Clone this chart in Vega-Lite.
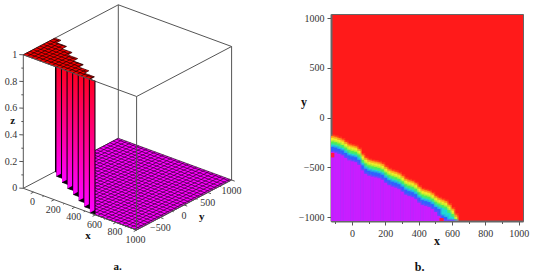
{"$schema":"https://vega.github.io/schema/vega-lite/v6.json","padding":0,"background":"white","spacing":27,"config":{"view":{"stroke":null},"axis":{"grid":false,"labelOverlap":false}},
"datasets":{"a":[
{"g":"b0","a":-100,"b":-1000,"z":1,"c":-100,"d":1000,"e":1},{"g":"b0","a":-100,"b":1000,"z":1,"c":1000,"d":1000,"e":1},{"g":"b0","a":-100,"b":1000,"z":1,"c":-100,"d":1000,"e":0},{"g":"b0","a":-100,"b":-1000,"z":0,"c":-100,"d":1000,"e":0},{"g":"b0","a":1000,"b":1000,"z":1,"c":1000,"d":1000,"e":0},{"g":"b0","a":1000,"b":1000,"z":1,"c":1000,"d":-1000,"e":1},{"g":"b0","a":1000,"b":-1000,"z":1,"c":-100,"d":-1000,"e":1},{"g":"b0","a":-100,"b":-1000,"z":1,"c":-100,"d":-1000,"e":0},
{"g":"b1","a":1000,"b":-1000,"z":1,"c":1000,"d":-1000,"e":0},{"g":"b1","a":-100,"b":-1000,"z":0,"c":1000,"d":-1000,"e":0},{"g":"b1","a":1000,"b":-1000,"z":0,"c":1000,"d":1000,"e":0},{"g":"b1","a":-100,"b":-1000,"z":1,"c":600,"d":-1000,"e":1},
{"g":"fp","i":1,"x":-100,"y":1000,"z":0},{"g":"fp","i":2,"x":1000,"y":1000,"z":0},{"g":"fp","i":3,"x":1000,"y":-1000,"z":0},{"g":"fp","i":4,"x":600,"y":-1000,"z":0},{"g":"fp","i":5,"x":600,"y":-998,"z":0},{"g":"fp","i":6,"x":546,"y":-998,"z":0},{"g":"fp","i":7,"x":546,"y":-903,"z":0},{"g":"fp","i":8,"x":448,"y":-903,"z":0},{"g":"fp","i":9,"x":448,"y":-808,"z":0},{"g":"fp","i":10,"x":350,"y":-808,"z":0},{"g":"fp","i":11,"x":350,"y":-713,"z":0},{"g":"fp","i":12,"x":252,"y":-713,"z":0},{"g":"fp","i":13,"x":252,"y":-618,"z":0},{"g":"fp","i":14,"x":154,"y":-618,"z":0},{"g":"fp","i":15,"x":154,"y":-523,"z":0},{"g":"fp","i":16,"x":56,"y":-523,"z":0},{"g":"fp","i":17,"x":56,"y":-428,"z":0},{"g":"fp","i":18,"x":-42,"y":-428,"z":0},{"g":"fp","i":19,"x":-42,"y":-333,"z":0},{"g":"fp","i":20,"x":-100,"y":-333,"z":0},
{"g":"pp","i":1,"x":-100,"y":-1000,"z":1},{"g":"pp","i":2,"x":-100,"y":-333,"z":1},{"g":"pp","i":3,"x":-42,"y":-333,"z":1},{"g":"pp","i":4,"x":-42,"y":-428,"z":1},{"g":"pp","i":5,"x":56,"y":-428,"z":1},{"g":"pp","i":6,"x":56,"y":-523,"z":1},{"g":"pp","i":7,"x":154,"y":-523,"z":1},{"g":"pp","i":8,"x":154,"y":-618,"z":1},{"g":"pp","i":9,"x":252,"y":-618,"z":1},{"g":"pp","i":10,"x":252,"y":-713,"z":1},{"g":"pp","i":11,"x":350,"y":-713,"z":1},{"g":"pp","i":12,"x":350,"y":-808,"z":1},{"g":"pp","i":13,"x":448,"y":-808,"z":1},{"g":"pp","i":14,"x":448,"y":-903,"z":1},{"g":"pp","i":15,"x":546,"y":-903,"z":1},{"g":"pp","i":16,"x":546,"y":-998,"z":1},{"g":"pp","i":17,"x":600,"y":-998,"z":1},{"g":"pp","i":18,"x":600,"y":-1000,"z":1},
{"g":"wb","w":"0","x":-100,"y":-333,"z":0},{"g":"wb","w":"0","x":-42,"y":-333,"z":0},{"g":"wb","w":"1","x":-42,"y":-428,"z":0},{"g":"wb","w":"1","x":56,"y":-428,"z":0},{"g":"wb","w":"2","x":56,"y":-523,"z":0},{"g":"wb","w":"2","x":154,"y":-523,"z":0},{"g":"wb","w":"3","x":154,"y":-618,"z":0},{"g":"wb","w":"3","x":252,"y":-618,"z":0},{"g":"wb","w":"4","x":252,"y":-713,"z":0},{"g":"wb","w":"4","x":350,"y":-713,"z":0},{"g":"wb","w":"5","x":350,"y":-808,"z":0},{"g":"wb","w":"5","x":448,"y":-808,"z":0},{"g":"wb","w":"6","x":448,"y":-903,"z":0},{"g":"wb","w":"6","x":546,"y":-903,"z":0},{"g":"wb","w":"7","x":546,"y":-998,"z":0},{"g":"wb","w":"7","x":600,"y":-998,"z":0},
{"g":"wp","w":"0","x":-42,"y":-333,"z":0},{"g":"wp","w":"0","x":-42,"y":-428,"z":0},{"g":"wp","w":"1","x":56,"y":-428,"z":0},{"g":"wp","w":"1","x":56,"y":-523,"z":0},{"g":"wp","w":"2","x":154,"y":-523,"z":0},{"g":"wp","w":"2","x":154,"y":-618,"z":0},{"g":"wp","w":"3","x":252,"y":-618,"z":0},{"g":"wp","w":"3","x":252,"y":-713,"z":0},{"g":"wp","w":"4","x":350,"y":-713,"z":0},{"g":"wp","w":"4","x":350,"y":-808,"z":0},{"g":"wp","w":"5","x":448,"y":-808,"z":0},{"g":"wp","w":"5","x":448,"y":-903,"z":0},{"g":"wp","w":"6","x":546,"y":-903,"z":0},{"g":"wp","w":"6","x":546,"y":-998,"z":0},
{"g":"fg","a":-100,"b":-333,"c":-100,"d":1000,"z":0},{"g":"fg","a":-60,"b":-333,"c":-60,"d":1000,"z":0},{"g":"fg","a":-20,"b":-428,"c":-20,"d":1000,"z":0},{"g":"fg","a":20,"b":-428,"c":20,"d":1000,"z":0},{"g":"fg","a":60,"b":-523,"c":60,"d":1000,"z":0},{"g":"fg","a":100,"b":-523,"c":100,"d":1000,"z":0},{"g":"fg","a":140,"b":-523,"c":140,"d":1000,"z":0},{"g":"fg","a":180,"b":-618,"c":180,"d":1000,"z":0},{"g":"fg","a":220,"b":-618,"c":220,"d":1000,"z":0},{"g":"fg","a":260,"b":-713,"c":260,"d":1000,"z":0},{"g":"fg","a":300,"b":-713,"c":300,"d":1000,"z":0},{"g":"fg","a":340,"b":-713,"c":340,"d":1000,"z":0},{"g":"fg","a":380,"b":-808,"c":380,"d":1000,"z":0},{"g":"fg","a":420,"b":-808,"c":420,"d":1000,"z":0},{"g":"fg","a":460,"b":-903,"c":460,"d":1000,"z":0},{"g":"fg","a":500,"b":-903,"c":500,"d":1000,"z":0},{"g":"fg","a":540,"b":-903,"c":540,"d":1000,"z":0},{"g":"fg","a":580,"b":-998,"c":580,"d":1000,"z":0},{"g":"fg","a":620,"b":-1000,"c":620,"d":1000,"z":0},{"g":"fg","a":660,"b":-1000,"c":660,"d":1000,"z":0},{"g":"fg","a":700,"b":-1000,"c":700,"d":1000,"z":0},{"g":"fg","a":740,"b":-1000,"c":740,"d":1000,"z":0},{"g":"fg","a":780,"b":-1000,"c":780,"d":1000,"z":0},{"g":"fg","a":820,"b":-1000,"c":820,"d":1000,"z":0},{"g":"fg","a":860,"b":-1000,"c":860,"d":1000,"z":0},{"g":"fg","a":900,"b":-1000,"c":900,"d":1000,"z":0},{"g":"fg","a":940,"b":-1000,"c":940,"d":1000,"z":0},{"g":"fg","a":980,"b":-1000,"c":980,"d":1000,"z":0},
{"g":"fg","a":600,"b":-1000,"c":1000,"d":-1000,"z":0},{"g":"fg","a":546,"b":-930,"c":1000,"d":-930,"z":0},{"g":"fg","a":448,"b":-860,"c":1000,"d":-860,"z":0},{"g":"fg","a":350,"b":-790,"c":1000,"d":-790,"z":0},{"g":"fg","a":350,"b":-720,"c":1000,"d":-720,"z":0},{"g":"fg","a":252,"b":-650,"c":1000,"d":-650,"z":0},{"g":"fg","a":154,"b":-580,"c":1000,"d":-580,"z":0},{"g":"fg","a":56,"b":-510,"c":1000,"d":-510,"z":0},{"g":"fg","a":56,"b":-440,"c":1000,"d":-440,"z":0},{"g":"fg","a":-42,"b":-370,"c":1000,"d":-370,"z":0},{"g":"fg","a":-100,"b":-300,"c":1000,"d":-300,"z":0},{"g":"fg","a":-100,"b":-230,"c":1000,"d":-230,"z":0},{"g":"fg","a":-100,"b":-160,"c":1000,"d":-160,"z":0},{"g":"fg","a":-100,"b":-90,"c":1000,"d":-90,"z":0},{"g":"fg","a":-100,"b":-20,"c":1000,"d":-20,"z":0},{"g":"fg","a":-100,"b":50,"c":1000,"d":50,"z":0},{"g":"fg","a":-100,"b":120,"c":1000,"d":120,"z":0},{"g":"fg","a":-100,"b":190,"c":1000,"d":190,"z":0},{"g":"fg","a":-100,"b":260,"c":1000,"d":260,"z":0},{"g":"fg","a":-100,"b":330,"c":1000,"d":330,"z":0},{"g":"fg","a":-100,"b":400,"c":1000,"d":400,"z":0},{"g":"fg","a":-100,"b":470,"c":1000,"d":470,"z":0},{"g":"fg","a":-100,"b":540,"c":1000,"d":540,"z":0},{"g":"fg","a":-100,"b":610,"c":1000,"d":610,"z":0},{"g":"fg","a":-100,"b":680,"c":1000,"d":680,"z":0},{"g":"fg","a":-100,"b":750,"c":1000,"d":750,"z":0},{"g":"fg","a":-100,"b":820,"c":1000,"d":820,"z":0},{"g":"fg","a":-100,"b":890,"c":1000,"d":890,"z":0},{"g":"fg","a":-100,"b":960,"c":1000,"d":960,"z":0},
{"g":"pg","a":-60,"b":-1000,"c":-60,"d":-333,"z":1},{"g":"pg","a":-20,"b":-1000,"c":-20,"d":-428,"z":1},{"g":"pg","a":20,"b":-1000,"c":20,"d":-428,"z":1},{"g":"pg","a":60,"b":-1000,"c":60,"d":-523,"z":1},{"g":"pg","a":100,"b":-1000,"c":100,"d":-523,"z":1},{"g":"pg","a":140,"b":-1000,"c":140,"d":-523,"z":1},{"g":"pg","a":180,"b":-1000,"c":180,"d":-618,"z":1},{"g":"pg","a":220,"b":-1000,"c":220,"d":-618,"z":1},{"g":"pg","a":260,"b":-1000,"c":260,"d":-713,"z":1},{"g":"pg","a":300,"b":-1000,"c":300,"d":-713,"z":1},{"g":"pg","a":340,"b":-1000,"c":340,"d":-713,"z":1},{"g":"pg","a":380,"b":-1000,"c":380,"d":-808,"z":1},{"g":"pg","a":420,"b":-1000,"c":420,"d":-808,"z":1},{"g":"pg","a":460,"b":-1000,"c":460,"d":-903,"z":1},{"g":"pg","a":500,"b":-1000,"c":500,"d":-903,"z":1},{"g":"pg","a":540,"b":-1000,"c":540,"d":-903,"z":1},{"g":"pg","a":-100,"b":-930,"c":546,"d":-930,"z":1},{"g":"pg","a":-100,"b":-860,"c":448,"d":-860,"z":1},{"g":"pg","a":-100,"b":-790,"c":350,"d":-790,"z":1},{"g":"pg","a":-100,"b":-720,"c":350,"d":-720,"z":1},{"g":"pg","a":-100,"b":-650,"c":252,"d":-650,"z":1},{"g":"pg","a":-100,"b":-580,"c":154,"d":-580,"z":1},{"g":"pg","a":-100,"b":-510,"c":56,"d":-510,"z":1},{"g":"pg","a":-100,"b":-440,"c":56,"d":-440,"z":1},{"g":"pg","a":-100,"b":-370,"c":-42,"d":-370,"z":1},
{"g":"t","a":-100,"b":-1000,"c":-125,"d":-1030,"z":0},{"g":"t","a":-100,"b":-1000,"c":-112,"d":-1015,"z":0.1},{"g":"t","a":-100,"b":-1000,"c":-125,"d":-1030,"z":0.2},{"g":"t","a":-100,"b":-1000,"c":-112,"d":-1015,"z":0.3},{"g":"t","a":-100,"b":-1000,"c":-125,"d":-1030,"z":0.4},{"g":"t","a":-100,"b":-1000,"c":-112,"d":-1015,"z":0.5},{"g":"t","a":-100,"b":-1000,"c":-125,"d":-1030,"z":0.6},{"g":"t","a":-100,"b":-1000,"c":-112,"d":-1015,"z":0.7},{"g":"t","a":-100,"b":-1000,"c":-125,"d":-1030,"z":0.8},{"g":"t","a":-100,"b":-1000,"c":-112,"d":-1015,"z":0.9},{"g":"t","a":-100,"b":-1000,"c":-125,"d":-1030,"z":1},
{"g":"t","a":0,"b":-1000,"c":0,"d":-1060,"z":0},{"g":"t","a":100,"b":-1000,"c":100,"d":-1030,"z":0},{"g":"t","a":200,"b":-1000,"c":200,"d":-1060,"z":0},{"g":"t","a":300,"b":-1000,"c":300,"d":-1030,"z":0},{"g":"t","a":400,"b":-1000,"c":400,"d":-1060,"z":0},{"g":"t","a":500,"b":-1000,"c":500,"d":-1030,"z":0},{"g":"t","a":600,"b":-1000,"c":600,"d":-1060,"z":0},{"g":"t","a":700,"b":-1000,"c":700,"d":-1030,"z":0},{"g":"t","a":800,"b":-1000,"c":800,"d":-1060,"z":0},{"g":"t","a":900,"b":-1000,"c":900,"d":-1030,"z":0},{"g":"t","a":1000,"b":-1000,"c":1000,"d":-1060,"z":0},
{"g":"t","a":1000,"b":-500,"c":1030,"d":-500,"z":0},{"g":"t","a":1000,"b":-250,"c":1015,"d":-250,"z":0},{"g":"t","a":1000,"b":0,"c":1030,"d":0,"z":0},{"g":"t","a":1000,"b":250,"c":1015,"d":250,"z":0},{"g":"t","a":1000,"b":500,"c":1030,"d":500,"z":0},{"g":"t","a":1000,"b":750,"c":1015,"d":750,"z":0},{"g":"t","a":1000,"b":1000,"c":1030,"d":1000,"z":0},
{"g":"lz","t":"0","x":-100,"y":-1000,"z":0},{"g":"lz","t":"0.2","x":-100,"y":-1000,"z":0.2},{"g":"lz","t":"0.4","x":-100,"y":-1000,"z":0.4},{"g":"lz","t":"0.6","x":-100,"y":-1000,"z":0.6},{"g":"lz","t":"0.8","x":-100,"y":-1000,"z":0.8},{"g":"lz","t":"1","x":-100,"y":-1000,"z":1},
{"g":"lx","t":"0","x":0,"y":-1000,"z":0},{"g":"lx","t":"200","x":200,"y":-1000,"z":0},{"g":"lx","t":"400","x":400,"y":-1000,"z":0},{"g":"lx","t":"600","x":600,"y":-1000,"z":0},{"g":"lx","t":"800","x":800,"y":-1000,"z":0},{"g":"lx","t":"1000","x":1000,"y":-1000,"z":0},
{"g":"ly","t":"−500","x":1000,"y":-500,"z":0},{"g":"ly","t":"0","x":1000,"y":0,"z":0},{"g":"ly","t":"500","x":1000,"y":500,"z":0},{"g":"ly","t":"1000","x":1000,"y":1000,"z":0},
{"g":"tt","t":"z","x":-100,"y":-1223,"z":0.545},{"g":"tt","t":"x","x":788,"y":-1562,"z":0},{"g":"tt","t":"y","x":1231,"y":-130,"z":0},{"g":"tt","t":"a.","x":1293,"y":-2035,"z":0}
],
"h":[
{"x":-130,"x2":-109,"o":-185,"yl":-205,"gr":-240,"t":-270,"b":-295,"p":-345},{"x":-110,"x2":-89,"o":-192,"yl":-212,"gr":-247,"t":-277,"b":-302,"p":-352},{"x":-90,"x2":-69,"o":-205,"yl":-225,"gr":-260,"t":-290,"b":-315,"p":-365},{"x":-70,"x2":-49,"o":-220,"yl":-240,"gr":-275,"t":-305,"b":-330,"p":-380},{"x":-50,"x2":-29,"o":-245,"yl":-265,"gr":-300,"t":-330,"b":-355,"p":-405},{"x":-30,"x2":-9,"o":-270,"yl":-290,"gr":-325,"t":-355,"b":-380,"p":-430},{"x":-10,"x2":11,"o":-280,"yl":-300,"gr":-335,"t":-365,"b":-390,"p":-440},{"x":10,"x2":31,"o":-288,"yl":-308,"gr":-343,"t":-373,"b":-398,"p":-448},{"x":30,"x2":51,"o":-315,"yl":-335,"gr":-370,"t":-400,"b":-425,"p":-475},{"x":50,"x2":71,"o":-370,"yl":-390,"gr":-425,"t":-455,"b":-480,"p":-530},{"x":70,"x2":91,"o":-405,"yl":-425,"gr":-460,"t":-490,"b":-515,"p":-565},{"x":90,"x2":111,"o":-425,"yl":-445,"gr":-480,"t":-510,"b":-535,"p":-585},{"x":110,"x2":131,"o":-435,"yl":-455,"gr":-490,"t":-520,"b":-545,"p":-595},{"x":130,"x2":151,"o":-442,"yl":-462,"gr":-497,"t":-527,"b":-552,"p":-602},{"x":150,"x2":171,"o":-450,"yl":-470,"gr":-505,"t":-535,"b":-560,"p":-610},{"x":170,"x2":191,"o":-465,"yl":-485,"gr":-520,"t":-550,"b":-575,"p":-625},{"x":190,"x2":211,"o":-495,"yl":-515,"gr":-550,"t":-580,"b":-605,"p":-655},{"x":210,"x2":231,"o":-520,"yl":-540,"gr":-575,"t":-605,"b":-630,"p":-680},{"x":230,"x2":251,"o":-535,"yl":-555,"gr":-590,"t":-620,"b":-645,"p":-695},{"x":250,"x2":271,"o":-545,"yl":-565,"gr":-600,"t":-630,"b":-655,"p":-705},{"x":270,"x2":291,"o":-560,"yl":-580,"gr":-615,"t":-645,"b":-670,"p":-720},{"x":290,"x2":311,"o":-585,"yl":-605,"gr":-640,"t":-670,"b":-695,"p":-745},{"x":310,"x2":331,"o":-615,"yl":-635,"gr":-670,"t":-700,"b":-725,"p":-775},{"x":330,"x2":351,"o":-630,"yl":-650,"gr":-685,"t":-715,"b":-740,"p":-790},{"x":350,"x2":371,"o":-640,"yl":-660,"gr":-695,"t":-725,"b":-750,"p":-800},{"x":370,"x2":391,"o":-660,"yl":-680,"gr":-715,"t":-745,"b":-770,"p":-820},{"x":390,"x2":411,"o":-695,"yl":-715,"gr":-750,"t":-780,"b":-805,"p":-855},{"x":410,"x2":431,"o":-720,"yl":-740,"gr":-775,"t":-805,"b":-830,"p":-880},{"x":430,"x2":451,"o":-730,"yl":-750,"gr":-785,"t":-815,"b":-840,"p":-890},{"x":450,"x2":471,"o":-740,"yl":-760,"gr":-795,"t":-825,"b":-850,"p":-900},{"x":470,"x2":491,"o":-760,"yl":-780,"gr":-815,"t":-845,"b":-870,"p":-920},{"x":490,"x2":511,"o":-790,"yl":-810,"gr":-845,"t":-875,"b":-900,"p":-950},{"x":510,"x2":531,"o":-810,"yl":-830,"gr":-865,"t":-895,"b":-920,"p":-990},{"x":530,"x2":551,"o":-825,"yl":-845,"gr":-880,"t":-910,"b":-985,"p":-1030},{"x":550,"x2":571,"o":-840,"yl":-860,"gr":-895,"t":-925,"b":-1000,"p":-1070},{"x":570,"x2":591,"o":-875,"yl":-895,"gr":-930,"t":-960,"b":-1030,"p":-1100},{"x":590,"x2":611,"o":-915,"yl":-935,"gr":-970,"t":-1000,"b":-1035,"p":-1100},{"x":610,"x2":631,"o":-975,"yl":-1000,"gr":-1020,"t":-1040,"b":-1060,"p":-1100}
],
"s":[{"x":-126,"x2":-106,"y":-355,"y2":-400},{"x":525,"x2":550,"y":-1010,"y2":-1040}],
"m":[{"y":-900},{"y":-800},{"y":-700},{"y":-600},{"y":-400},{"y":-300},{"y":-200},{"y":-100},{"y":100},{"y":200},{"y":300},{"y":400},{"y":600},{"y":700},{"y":800},{"y":900}],
"n":[{"t":"x","x":510,"y":-1240},{"t":"y","x":-288,"y":160},{"t":"b.","x":406,"y":-1500},{"t":" ","x":406,"y":1115}]},
"hconcat":[
{"width":270,"height":207,"data":{"name":"a"},
"transform":[
{"calculate":"23.3+(datum.x+100)*0.103+(datum.y+1000)*0.0475","as":"u"},
{"calculate":"188.3+(datum.x+100)*0.0379-(datum.y+1000)*0.025-datum.z*133.5","as":"v"},
{"calculate":"54.8+(datum.u-23.3)*0.368","as":"vt"},
{"calculate":"23.3+(datum.a+100)*0.103+(datum.b+1000)*0.0475","as":"u1"},
{"calculate":"188.3+(datum.a+100)*0.0379-(datum.b+1000)*0.025-datum.z*133.5","as":"v1"},
{"calculate":"23.3+(datum.c+100)*0.103+(datum.d+1000)*0.0475","as":"u2"},
{"calculate":"188.3+(datum.c+100)*0.0379-(datum.d+1000)*0.025-(isValid(datum.e)?datum.e:datum.z)*133.5","as":"v2"}
],
"layer":[
{"transform":[{"filter":"datum.g=='b0'"}],"mark":{"type":"rule","color":"#555","strokeWidth":1},"encoding":{"x":{"field":"u1","type":"quantitative","scale":{"domain":[0,270],"nice":false,"zero":false},"axis":null},"y":{"field":"v1","type":"quantitative","scale":{"domain":[221,14],"nice":false,"zero":false},"axis":null},"x2":{"field":"u2"},"y2":{"field":"v2"}}},
{"transform":[{"filter":"datum.g=='fp'"}],"mark":{"type":"line","fill":"#ff00ff","stroke":"#222","strokeWidth":0.7},"encoding":{"x":{"field":"u","type":"quantitative"},"y":{"field":"v","type":"quantitative"},"order":{"field":"i"}}},
{"transform":[{"filter":"datum.g=='fg'"}],"mark":{"type":"rule","color":"#300030","strokeWidth":0.7},"encoding":{"x":{"field":"u1","type":"quantitative"},"y":{"field":"v1","type":"quantitative"},"x2":{"field":"u2"},"y2":{"field":"v2"}}},
{"transform":[{"filter":"datum.g=='wb'"}],"mark":{"type":"area","color":"#0a000a"},"encoding":{"x":{"field":"u","type":"quantitative"},"y":{"field":"vt","type":"quantitative"},"y2":{"field":"v"},"detail":{"field":"w"}}},
{"transform":[{"filter":"datum.g=='wp'"}],"mark":{"type":"area","color":{"gradient":"linear","x1":0,"y1":0,"x2":0,"y2":1,"stops":[{"offset":0,"color":"#ff0020"},{"offset":0.5,"color":"#ff0090"},{"offset":1,"color":"#ff00ff"}]}},"encoding":{"x":{"field":"u","type":"quantitative"},"y":{"field":"vt","type":"quantitative"},"y2":{"field":"v"},"detail":{"field":"w"}}},
{"transform":[{"filter":"datum.g=='pp'"}],"mark":{"type":"line","fill":"#f40000","stroke":"#300","strokeWidth":0.7},"encoding":{"x":{"field":"u","type":"quantitative"},"y":{"field":"v","type":"quantitative"},"order":{"field":"i"}}},
{"transform":[{"filter":"datum.g=='pg'"}],"mark":{"type":"rule","color":"#200000","strokeWidth":0.7},"encoding":{"x":{"field":"u1","type":"quantitative"},"y":{"field":"v1","type":"quantitative"},"x2":{"field":"u2"},"y2":{"field":"v2"}}},
{"transform":[{"filter":"datum.g=='b1'||datum.g=='t'"}],"mark":{"type":"rule","color":"#555","strokeWidth":1},"encoding":{"x":{"field":"u1","type":"quantitative"},"y":{"field":"v1","type":"quantitative"},"x2":{"field":"u2"},"y2":{"field":"v2"}}},
{"transform":[{"filter":"datum.g=='lz'"}],"mark":{"type":"text","font":"Liberation Serif","fontSize":10,"color":"#333","align":"right","baseline":"middle","dx":-6},"encoding":{"x":{"field":"u","type":"quantitative"},"y":{"field":"v","type":"quantitative"},"text":{"field":"t"}}},
{"transform":[{"filter":"datum.g=='lx'"}],"mark":{"type":"text","font":"Liberation Serif","fontSize":10,"color":"#333","align":"center","baseline":"middle","dx":-1,"dy":10},"encoding":{"x":{"field":"u","type":"quantitative"},"y":{"field":"v","type":"quantitative"},"text":{"field":"t"}}},
{"transform":[{"filter":"datum.g=='ly'"}],"mark":{"type":"text","font":"Liberation Serif","fontSize":10,"color":"#333","align":"center","baseline":"middle","dx":0,"dy":11},"encoding":{"x":{"field":"u","type":"quantitative"},"y":{"field":"v","type":"quantitative"},"text":{"field":"t"}}},
{"transform":[{"filter":"datum.g=='tt'"}],"mark":{"type":"text","font":"Liberation Serif","fontSize":11,"fontWeight":"bold","color":"#111","align":"center","baseline":"middle"},"encoding":{"x":{"field":"u","type":"quantitative"},"y":{"field":"v","type":"quantitative"},"text":{"field":"t"}}}
]},
{"width":192,"height":207,"view":{"fill":"#ff1a1a","stroke":"#666","strokeWidth":1},"data":{"name":"h"},
"encoding":{"x":{"field":"x","type":"quantitative","scale":{"domain":[-126,1026],"nice":false,"zero":false},"axis":{"title":null,"values":[-100,0,100,200,300,400,500,600,700,800,900,1000],"labelExpr":"datum.value%200==0?datum.label:''","labelOverlap":false,"labelFont":"Liberation Serif","labelFontSize":10,"labelColor":"#333","tickColor":"#555","domainColor":"#666","domainWidth":2,"tickSize":{"condition":{"test":"datum.value%200==0","value":4},"value":2.5},"labelPadding":3,"format":"d"}},"x2":{"field":"x2"}},
"layer":[
{"mark":{"type":"rect","color":"#ff8a1a","clip":true,"stroke":"#ff8a1a","strokeWidth":3,"strokeOpacity":0.25},"encoding":{"y":{"field":"o","type":"quantitative","scale":{"domain":[-1040,1043],"nice":false,"zero":false},"axis":{"title":null,"values":[-1000,-500,0,500,1000],"labelExpr":"datum.value<0?'−'+abs(datum.value):''+datum.value","labelFont":"Liberation Serif","labelFontSize":10,"labelColor":"#333","tickColor":"#555","domainColor":"#666","domainWidth":2,"tickSize":4,"labelPadding":3}},"y2":{"datum":-1040}}},
{"mark":{"type":"rect","color":"#f0f028","clip":true,"stroke":"#f0f028","strokeWidth":3,"strokeOpacity":0.25},"encoding":{"y":{"field":"yl","type":"quantitative"},"y2":{"datum":-1040}}},
{"mark":{"type":"rect","color":"#50f050","clip":true,"stroke":"#50f050","strokeWidth":3,"strokeOpacity":0.25},"encoding":{"y":{"field":"gr","type":"quantitative"},"y2":{"datum":-1040}}},
{"mark":{"type":"rect","color":"#20d8d8","clip":true,"stroke":"#20d8d8","strokeWidth":3,"strokeOpacity":0.25},"encoding":{"y":{"field":"t","type":"quantitative"},"y2":{"datum":-1040}}},
{"mark":{"type":"rect","color":"#3060ff","clip":true,"stroke":"#3060ff","strokeWidth":3,"strokeOpacity":0.25},"encoding":{"y":{"field":"b","type":"quantitative"},"y2":{"datum":-1040}}},
{"mark":{"type":"rect","color":"#c81eff","clip":true,"stroke":"#c81eff","strokeWidth":3,"strokeOpacity":0.25},"encoding":{"y":{"field":"p","type":"quantitative"},"y2":{"datum":-1040}}},
{"data":{"name":"s"},"mark":{"type":"rect","color":"#ff1a40","clip":true},"encoding":{"y":{"field":"y","type":"quantitative"},"y2":{"field":"y2"}}},
{"data":{"name":"m"},"mark":{"type":"rule","color":"#555","strokeWidth":1},"encoding":{"x":{"datum":-126},"x2":{"datum":-141},"y":{"field":"y","type":"quantitative"}}},
{"data":{"name":"n"},"mark":{"type":"text","font":"Liberation Serif","fontSize":12,"fontWeight":"bold","color":"#111","baseline":"middle"},"encoding":{"x":{"field":"x","type":"quantitative"},"x2":null,"y":{"field":"y","type":"quantitative"},"text":{"field":"t"}}}
]}
]}
